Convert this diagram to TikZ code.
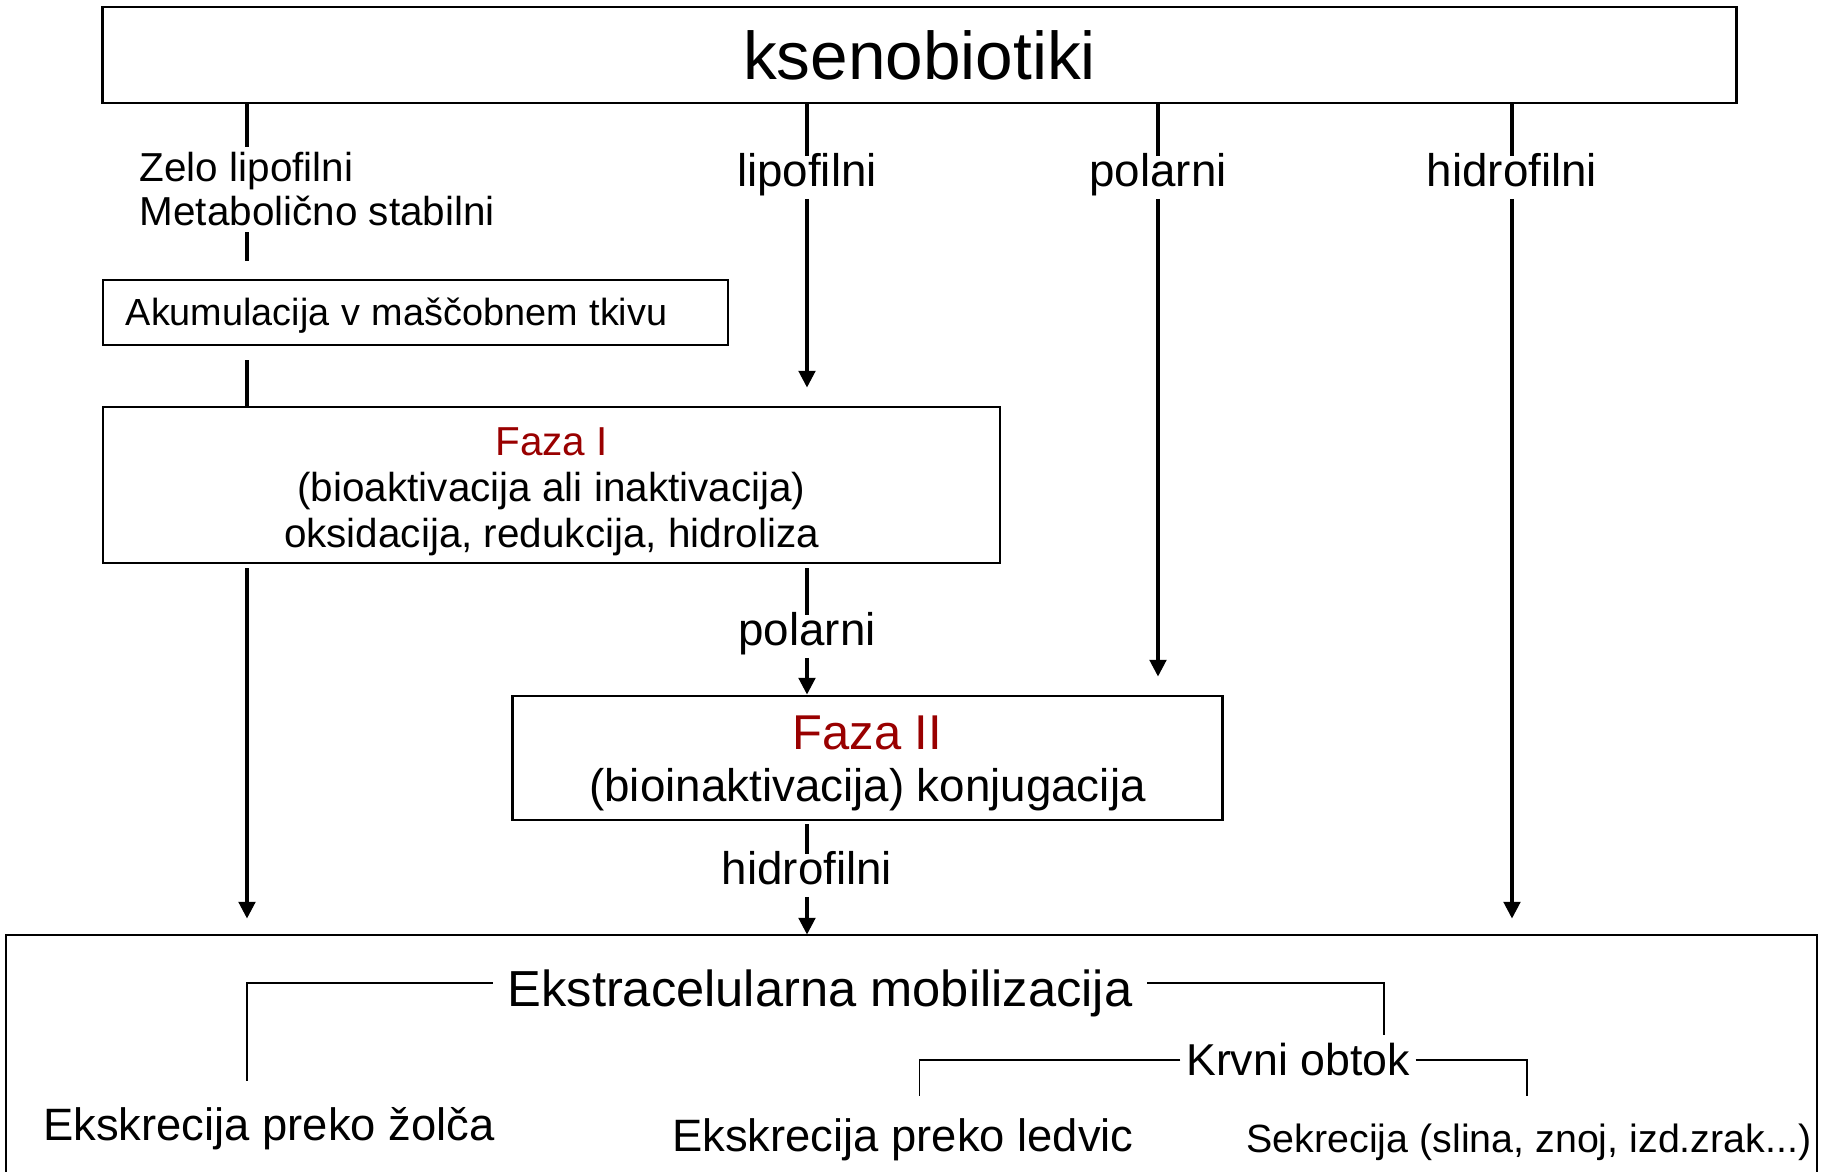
\documentclass[tikz,border=0pt]{standalone}
\usepackage{fontspec}
\setmainfont{Liberation Sans}
\usetikzlibrary{arrows.meta}
\definecolor{fazared}{RGB}{153,0,0}
\newcommand{\Fsize}[2]{\fontsize{#1}{#2}\selectfont}
\newcommand{\FazaName}[2]{\rule{0pt}{#1}\textcolor{fazared}{#2}}

\begin{document}
\begin{tikzpicture}[x=0.01cm,y=-0.01cm,
  box/.style={draw,line width=0.7pt,inner sep=0pt},
  lbl/.style={inner xsep=0pt,inner ysep=1pt,text height=0.75em,text depth=0.22em,font=\Fsize{13}{15}},
  conn/.style={line width=1.3pt},
  arr/.style={line width=1.3pt,-{Triangle[length=4.8pt,width=4.6pt]}},
  brk/.style={line width=0.5pt}]
\useasboundingbox (0,0) rectangle (1829,1172);

\coordinate (c1) at (247,0);
\coordinate (c2) at (807,0);
\coordinate (c3) at (1158,0);
\coordinate (c4) at (1512,0);

\node[box,minimum width=16.33cm,minimum height=0.96cm] (xeno) at (919.5,55) {\Fsize{19.2}{22}ksenobiotiki};

\node[anchor=west,inner xsep=0pt,inner ysep=1.5pt,align=left,font=\Fsize{11.5}{12.5}] (zelo) at (139,189.5)
     {Zelo lipofilni\\Metabolično stabilni};
\node[lbl] (lipo) at (807,177.5) {lipofilni};
\node[lbl] (pol) at (1158,177.5) {polarni};
\node[lbl] (hidro) at (1512,177.5) {hidrofilni};

\node[box,minimum width=6.25cm,minimum height=0.65cm,inner xsep=0.23cm,text width=5.79cm,align=left,
      text height=0.76em,text depth=0pt] (akum) at (415.5,312.5)
     {\Fsize{10.75}{13}Akumulacija v maščobnem tkivu};

\node[box,minimum width=8.97cm,minimum height=1.56cm,align=center,font=\Fsize{11.5}{13.1}] (faza1) at (551.5,485)
     {\FazaName{11.8pt}{Faza I}\\(bioaktivacija ali inaktivacija)\\oksidacija, redukcija, hidroliza};
\node[lbl] (pol2) at (807,636.5) {polarni};

\node[box,minimum width=7.095cm,minimum height=1.24cm,align=center,font=\Fsize{13}{14.6}] (faza2) at (867.5,758)
     {\Fsize{13.9}{14.6}\FazaName{12.7pt}{Faza II}\\(bioinaktivacija) konjugacija};
\node[lbl] (hidro2) at (807,875.5) {hidrofilni};

\node[minimum width=18.09cm,minimum height=2.365cm,inner sep=0pt] (mob) at (911.5,1053.75) {};
\node[inner xsep=4pt] (ekstra) at (820,993) {\Fsize{14.4}{16}Ekstracelularna mobilizacija};
\node[inner xsep=1.5pt] (krvni) at (1298,1060) {\Fsize{12.7}{15}Krvni obtok};
\node (zolc) at (269,1129) {\Fsize{12.9}{15}Ekskrecija preko žolča};
\node (ledvic) at (903,1140) {\Fsize{12.9}{15}Ekskrecija preko ledvic};
\node (sekr) at (1529,1142) {\Fsize{11.2}{13}Sekrecija (slina, znoj, izd.zrak...)};
\coordinate (b1) at (247,1081);
\coordinate (b2) at (1384,1035);
\coordinate (b3) at (919.5,1096);
\coordinate (b4) at (1527,1096);

\draw[conn] (xeno.south -| c1) -- (zelo.north -| c1);
\draw[conn,shorten >=0.18cm] (zelo.south -| c1) -- (akum.north -| c1);
\draw[conn,shorten <=0.14cm] (akum.south -| c1) -- (faza1.north -| c1);
\draw[arr,shorten <=0.04cm,shorten >=0.16cm] (faza1.south -| c1) -- (mob.north -| c1);

\draw[conn] (xeno.south -| c2) -- (lipo.north);
\draw[arr,shorten >=0.18cm] (lipo.south) -- (faza1.north -| c2);
\draw[conn,shorten <=0.04cm] (faza1.south -| c2) -- (pol2.north);
\draw[arr] (pol2.south) -- (faza2.north -| c2);
\draw[conn,shorten <=0.03cm] (faza2.south -| c2) -- (hidro2.north);
\draw[arr] (hidro2.south) -- (mob.north -| c2);

\draw[conn] (xeno.south -| c3) -- (pol.north);
\draw[arr,shorten >=0.18cm] (pol.south) -- (faza2.north -| c3);

\draw[conn] (xeno.south -| c4) -- (hidro.north);
\draw[arr,shorten >=0.16cm] (hidro.south) -- (mob.north -| c4);

\draw[box] (mob.south west) -- (mob.north west) -- (mob.north east) -- (mob.south east);

\draw[brk] ([yshift=0.1cm]ekstra.west) -| (b1);
\draw[brk] ([yshift=0.1cm]ekstra.east) -| (b2);
\draw[brk] (krvni.west) -| (b3);
\draw[brk] (krvni.east) -| (b4);
\end{tikzpicture}
\end{document}
